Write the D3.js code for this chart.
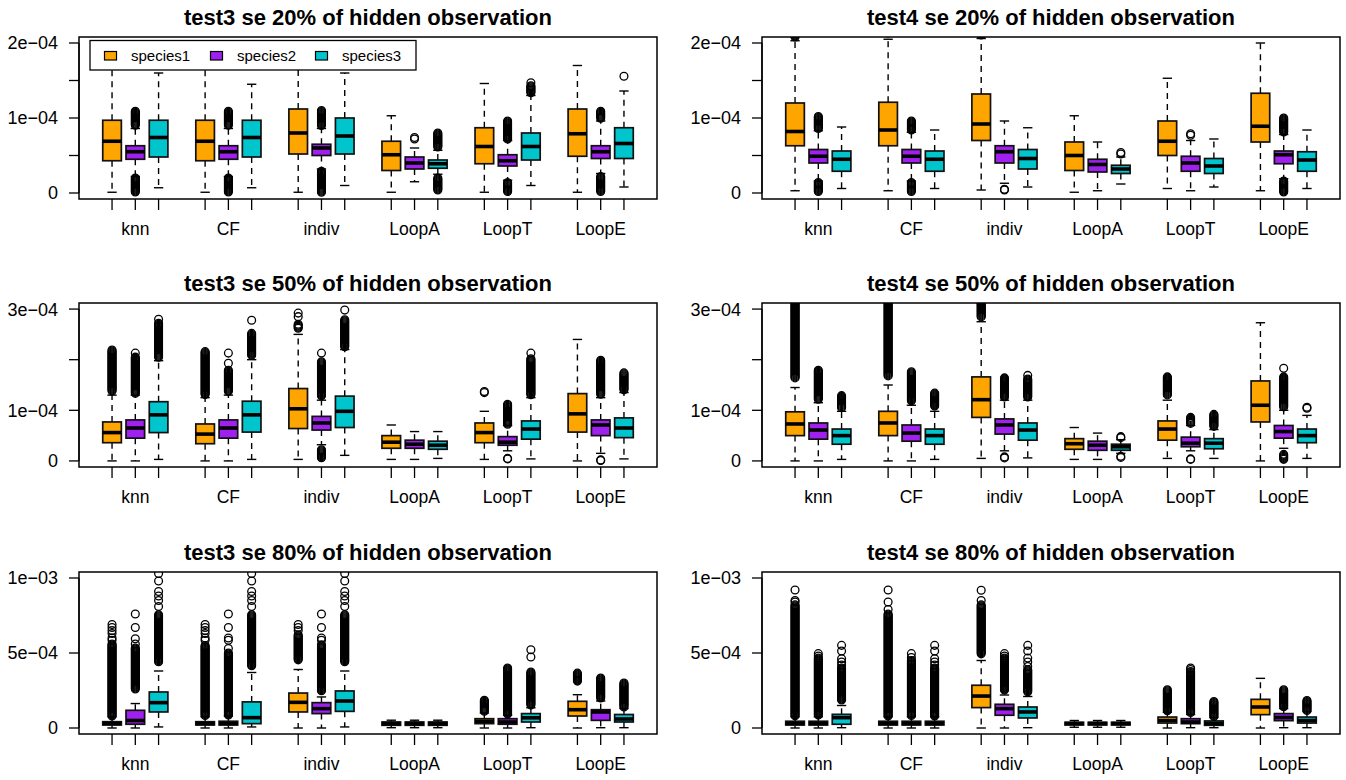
<!DOCTYPE html>
<html>
<head>
<meta charset="utf-8">
<script src="https://cdn.jsdelivr.net/npm/d3@7"></script>
<style>
  body { margin: 0; background: #fff; }
  text { font-family: "Liberation Sans", Arial, Helvetica, sans-serif; fill: #000; }
</style>
</head>
<body>
<script>
// ---- data (all values in units of 1e-4) ----
const methods = ["knn", "CF", "indiv", "LoopA", "LoopT", "LoopE"];
const species = ["species1", "species2", "species3"];
const speciesColors = ["#FFA500", "#A020F0", "#00C5CD"];

const titles = [
    "test3 se 20% of hidden observation", "test4 se 20% of hidden observation",
    "test3 se 50% of hidden observation", "test4 se 50% of hidden observation",
    "test3 se 80% of hidden observation", "test4 se 80% of hidden observation"
];

// y range per row, tick values and which get a label
const rowMax = [2, 3, 10];
const rowTicks = [[0, 0.5, 1, 1.5, 2], [0, 1, 2, 3], [0, 5, 10]];
const rowTickLabels = [
    ["0", "", "1e\u221204", "", "2e\u221204"],
    ["0", "1e\u221204", "", "3e\u221204"],
    ["0", "5e\u221204", "1e\u221203"]
];

// box stats: [lower whisker, q1, median, q3, upper whisker], order knn s1..s3, CF s1..s3, ...
const statsT3p20 = [
    [0.01, 0.43, 0.69, 0.97, 1.70], [0.22, 0.45, 0.55, 0.63, 0.86], [0.07, 0.48, 0.74, 0.97, 1.60],
    [0.01, 0.43, 0.69, 0.97, 1.70], [0.22, 0.45, 0.55, 0.63, 0.86], [0.07, 0.48, 0.74, 0.97, 1.45],
    [0.01, 0.52, 0.80, 1.12, 1.75], [0.32, 0.50, 0.60, 0.65, 0.86], [0.10, 0.52, 0.76, 1.00, 1.60],
    [0.01, 0.30, 0.51, 0.69, 1.03], [0.15, 0.32, 0.40, 0.48, 0.60], [0.25, 0.33, 0.39, 0.44, 0.57],
    [0.01, 0.39, 0.62, 0.87, 1.46], [0.17, 0.36, 0.43, 0.51, 0.70], [0.10, 0.44, 0.62, 0.80, 1.30],
    [0.01, 0.49, 0.79, 1.12, 1.70], [0.26, 0.46, 0.55, 0.63, 0.96], [0.08, 0.46, 0.66, 0.87, 1.36]
];
const statsT4p20 = [
    [0.03, 0.63, 0.82, 1.20, 2.03], [0.16, 0.40, 0.49, 0.58, 0.83], [0.06, 0.29, 0.45, 0.56, 0.88],
    [0.03, 0.63, 0.84, 1.21, 2.05], [0.16, 0.40, 0.49, 0.58, 0.81], [0.06, 0.29, 0.45, 0.56, 0.84],
    [0.04, 0.70, 0.92, 1.32, 2.06], [0.13, 0.40, 0.55, 0.63, 0.96], [0.08, 0.32, 0.46, 0.58, 0.87],
    [0.01, 0.30, 0.50, 0.68, 1.03], [0.03, 0.28, 0.38, 0.45, 0.68], [0.12, 0.26, 0.32, 0.37, 0.48],
    [0.06, 0.50, 0.69, 0.96, 1.53], [0.03, 0.29, 0.40, 0.49, 0.70], [0.08, 0.26, 0.36, 0.46, 0.72],
    [0.03, 0.68, 0.89, 1.33, 2.00], [0.19, 0.39, 0.51, 0.56, 0.78], [0.06, 0.29, 0.44, 0.55, 0.84]
];
const statsT3p50 = [
    [0.00, 0.36, 0.56, 0.77, 1.30], [0.00, 0.45, 0.65, 0.81, 1.30], [0.03, 0.56, 0.91, 1.17, 1.98],
    [0.00, 0.34, 0.53, 0.73, 1.25], [0.00, 0.45, 0.65, 0.81, 1.30], [0.03, 0.57, 0.91, 1.18, 2.00],
    [0.03, 0.64, 1.03, 1.43, 2.50], [0.32, 0.61, 0.75, 0.88, 1.20], [0.11, 0.66, 0.98, 1.28, 2.20],
    [0.03, 0.25, 0.37, 0.50, 0.71], [0.03, 0.25, 0.33, 0.41, 0.58], [0.05, 0.23, 0.31, 0.39, 0.58],
    [0.03, 0.36, 0.56, 0.75, 0.98], [0.20, 0.31, 0.37, 0.48, 0.70], [0.04, 0.43, 0.63, 0.79, 1.25],
    [0.00, 0.57, 0.93, 1.33, 2.40], [0.15, 0.50, 0.71, 0.81, 1.25], [0.04, 0.46, 0.65, 0.85, 1.35]
];
const statsT4p50 = [
    [0.00, 0.50, 0.73, 0.97, 1.45], [0.00, 0.43, 0.61, 0.75, 1.15], [0.03, 0.33, 0.50, 0.63, 0.98],
    [0.00, 0.50, 0.75, 0.98, 1.50], [0.00, 0.39, 0.55, 0.71, 1.10], [0.03, 0.33, 0.50, 0.63, 0.98],
    [0.05, 0.86, 1.21, 1.66, 2.75], [0.20, 0.53, 0.71, 0.83, 1.20], [0.06, 0.41, 0.61, 0.75, 1.20],
    [0.03, 0.23, 0.34, 0.44, 0.66], [0.03, 0.21, 0.31, 0.39, 0.55], [0.15, 0.21, 0.28, 0.33, 0.42],
    [0.05, 0.41, 0.63, 0.79, 1.20], [0.20, 0.28, 0.35, 0.47, 0.70], [0.05, 0.24, 0.35, 0.44, 0.62],
    [0.00, 0.77, 1.10, 1.58, 2.73], [0.25, 0.45, 0.58, 0.70, 1.00], [0.05, 0.36, 0.50, 0.63, 0.90]
];
const statsT3p80 = [
    [0.00, 0.20, 0.30, 0.42, 0.75], [0.00, 0.25, 0.50, 1.18, 1.63], [0.07, 1.07, 1.69, 2.40, 3.80],
    [0.00, 0.20, 0.30, 0.42, 0.75], [0.00, 0.20, 0.30, 0.45, 0.80], [0.07, 0.29, 0.69, 1.74, 3.70],
    [0.00, 1.07, 1.71, 2.33, 3.90], [0.00, 0.96, 1.29, 1.69, 2.07], [0.07, 1.11, 1.80, 2.47, 3.80],
    [0.02, 0.18, 0.30, 0.40, 0.52], [0.02, 0.18, 0.30, 0.40, 0.52], [0.02, 0.18, 0.30, 0.40, 0.52],
    [0.00, 0.29, 0.45, 0.62, 1.00], [0.00, 0.25, 0.40, 0.62, 0.85], [0.02, 0.40, 0.68, 0.96, 1.35],
    [0.00, 0.80, 1.22, 1.78, 2.22], [0.02, 0.51, 1.07, 1.22, 1.80], [0.02, 0.40, 0.60, 0.90, 1.30]
];
const statsT4p80 = [
    [0.00, 0.20, 0.30, 0.45, 0.75], [0.00, 0.20, 0.30, 0.45, 0.75], [0.02, 0.25, 0.69, 0.91, 1.50],
    [0.00, 0.20, 0.30, 0.45, 0.75], [0.00, 0.20, 0.30, 0.45, 0.75], [0.00, 0.20, 0.30, 0.45, 0.75],
    [0.00, 1.36, 2.13, 2.85, 4.50], [0.00, 0.85, 1.29, 1.58, 2.20], [0.02, 0.67, 1.07, 1.40, 2.10],
    [0.05, 0.20, 0.30, 0.38, 0.50], [0.05, 0.20, 0.30, 0.38, 0.50], [0.05, 0.20, 0.30, 0.38, 0.50],
    [0.00, 0.33, 0.50, 0.73, 1.05], [0.02, 0.29, 0.40, 0.62, 0.90], [0.02, 0.18, 0.30, 0.47, 0.70],
    [0.00, 0.89, 1.40, 1.91, 3.31], [0.02, 0.49, 0.70, 0.96, 1.30], [0.02, 0.33, 0.50, 0.73, 1.10]
];

// dense outlier runs: [box index, from, to]
const runsT3p20 = [[1, 0.9, 1.09], [1, 0.01, 0.2], [4, 0.9, 1.09], [4, 0.01, 0.2], [7, 0.9, 1.1], [7, 0.01, 0.29],
    [11, 0.61, 0.8], [11, 0.03, 0.2], [13, 0.72, 0.96], [13, 0.01, 0.14], [14, 1.33, 1.43],
    [16, 0.99, 1.09], [16, 0.01, 0.22]];
const runsT4p20 = [[0, 2.07, 2.4], [1, 0.86, 1.02], [1, 0.01, 0.14], [3, 2.12, 2.4], [4, 0.83, 0.96], [4, 0.01, 0.14],
    [6, 2.1, 2.4], [16, 0.81, 1.0], [16, 0.01, 0.16]];
const runsT3p50 = [[0, 1.37, 2.19], [1, 1.33, 2.05], [2, 2.04, 2.72], [3, 1.3, 2.16], [4, 1.37, 1.79], [5, 2.08, 2.52],
    [6, 2.62, 2.7], [7, 1.27, 1.96], [7, 0.05, 0.22], [8, 2.24, 2.79], [13, 0.72, 1.12], [14, 1.3, 2.02],
    [16, 1.3, 1.99], [17, 1.4, 1.74]];
const runsT4p50 = [[0, 1.64, 3.3], [1, 1.2, 1.79], [2, 1.05, 1.29], [3, 1.67, 3.3], [4, 1.17, 1.76], [5, 1.07, 1.34],
    [6, 2.84, 3.3], [7, 1.25, 1.64], [8, 1.25, 1.62], [12, 1.3, 1.66], [13, 0.74, 0.86], [14, 0.67, 0.92],
    [16, 1.05, 1.66], [16, 0.03, 0.13]];
const runsT3p80 = [[0, 0.8, 5.6], [1, 2.59, 5.33], [2, 4.37, 7.55], [3, 0.8, 5.5], [4, 0.85, 5.0], [5, 4.15, 7.55],
    [6, 4.48, 6.21], [7, 2.48, 5.55], [8, 4.37, 7.55], [12, 1.1, 1.85], [13, 0.9, 4.0], [14, 1.48, 3.73],
    [15, 3.08, 3.66], [16, 1.97, 3.33], [17, 1.37, 3.0]];
const runsT4p80 = [[0, 0.8, 8.21], [1, 0.8, 4.66], [2, 1.81, 4.0], [3, 0.8, 7.6], [4, 0.8, 4.5], [5, 0.8, 4.0],
    [6, 4.93, 8.21], [7, 2.48, 4.66], [8, 2.37, 3.88], [12, 1.15, 2.55], [13, 1.0, 3.77], [14, 0.75, 1.77],
    [16, 1.37, 2.55], [17, 1.15, 1.83]];

// single outliers: [box index, value]
const pointsT3p20 = [[10, 0.72], [10, 0.74], [14, 1.47], [17, 1.556]];
const pointsT4p20 = [[7, 0.04], [7, 0.05], [11, 0.52], [11, 0.54], [13, 0.77], [13, 0.79]];
const pointsT3p50 = [[1, 2.13], [2, 2.8], [4, 1.93], [4, 2.13], [5, 2.78], [6, 2.85], [6, 2.92], [7, 2.13],
    [8, 2.98], [12, 1.35], [12, 1.37], [13, 0.04], [13, 0.05], [14, 2.13], [16, 0.01], [16, 0.02]];
const pointsT4p50 = [[7, 0.06], [7, 0.08], [8, 1.69], [11, 0.46], [11, 0.48], [11, 0.07], [11, 0.09],
    [13, 0.03], [13, 0.04], [16, 1.83], [17, 1.04], [17, 1.06]];
const pointsT3p80 = [
    [0, 5.85], [0, 6.0], [0, 6.3], [0, 6.5], [0, 6.7], [0, 6.9],
    [1, 5.6], [1, 5.95], [1, 6.7], [1, 7.6],
    [2, 8.1], [2, 8.5], [2, 8.8], [2, 9.1], [2, 9.8], [2, 10.3],
    [3, 5.85], [3, 6.0], [3, 6.3], [3, 6.5], [3, 6.7], [3, 6.9],
    [4, 5.3], [4, 5.85], [4, 6.0], [4, 6.7], [4, 7.6],
    [5, 8.1], [5, 8.5], [5, 8.8], [5, 9.1], [5, 9.8], [5, 10.3],
    [6, 6.5], [6, 6.7], [6, 6.9],
    [7, 5.85], [7, 6.0], [7, 6.7], [7, 7.6],
    [8, 8.1], [8, 8.5], [8, 8.8], [8, 9.1], [8, 9.8], [8, 10.3],
    [14, 4.73], [14, 5.22]];
const pointsT4p80 = [
    [0, 8.4], [0, 8.5], [0, 9.2], [1, 4.8], [1, 4.96],
    [2, 4.2], [2, 4.4], [2, 4.62], [2, 5.13], [2, 5.51],
    [3, 7.9], [3, 8.4], [3, 9.2], [4, 4.7], [4, 4.96],
    [5, 4.2], [5, 4.4], [5, 4.62], [5, 5.13], [5, 5.51],
    [6, 8.5], [6, 9.18], [7, 4.8], [7, 4.96],
    [8, 4.1], [8, 4.4], [8, 4.66], [8, 5.13], [8, 5.51],
    [13, 3.9], [13, 4.0]];

const panelStats = [statsT3p20, statsT4p20, statsT3p50, statsT4p50, statsT3p80, statsT4p80];
const panelRuns = [runsT3p20, runsT4p20, runsT3p50, runsT4p50, runsT3p80, runsT4p80];
const panelPoints = [pointsT3p20, pointsT4p20, pointsT3p50, pointsT4p50, pointsT3p80, pointsT4p80];

// ---- layout ----
const width = 1346, height = 780;
const colX = [[79, 657], [762, 1340]];
const rowY = [[37, 199], [303, 467], [572, 734]];

const svg = d3.select("body").append("svg")
    .attr("width", width)
    .attr("height", height);

const boxPos = (i) => 4 * Math.floor(i / 3) + (i % 3) + 1;

function drawPanel(p) {
    const row = Math.floor(p / 2), col = p % 2;
    const [x0, x1] = colX[col];
    const [y0, y1] = rowY[row];
    const ymax = rowMax[row];

    const x = d3.scaleLinear().domain([0.5 - 0.92, 23.5 + 0.92]).range([x0, x1]);
    const y = d3.scaleLinear().domain([-0.04 * ymax, 1.04 * ymax]).range([y1, y0]);
    const unit = x(1) - x(0);
    const bw = 0.8 * unit;

    const g = svg.append("g");
    const clipId = "clip" + p;
    g.append("clipPath").attr("id", clipId)
        .append("rect").attr("x", x0).attr("y", y0).attr("width", x1 - x0).attr("height", y1 - y0);

    const plot = g.append("g").attr("clip-path", `url(#${clipId})`);
    const stats = panelStats[p];

    stats.forEach((s, i) => {
        const [lo, q1, med, q3, hi] = s;
        const cx = x(boxPos(i));
        const b = plot.append("g");

        // whiskers
        b.append("line").attr("x1", cx).attr("x2", cx).attr("y1", y(q3)).attr("y2", y(hi))
            .attr("stroke", "#000").attr("stroke-width", 1.4).attr("stroke-dasharray", "6,5");
        b.append("line").attr("x1", cx).attr("x2", cx).attr("y1", y(q1)).attr("y2", y(lo))
            .attr("stroke", "#000").attr("stroke-width", 1.4).attr("stroke-dasharray", "6,5");
        [lo, hi].forEach(v => {
            b.append("line").attr("x1", cx - bw / 4).attr("x2", cx + bw / 4)
                .attr("y1", y(v)).attr("y2", y(v))
                .attr("stroke", "#000").attr("stroke-width", 1.4);
        });

        // box + median
        b.append("rect")
            .attr("x", cx - bw / 2).attr("width", bw)
            .attr("y", y(q3)).attr("height", Math.max(0.5, y(q1) - y(q3)))
            .attr("fill", speciesColors[i % 3])
            .attr("stroke", "#111").attr("stroke-width", 1.7);
        b.append("line").attr("x1", cx - bw / 2).attr("x2", cx + bw / 2)
            .attr("y1", y(med)).attr("y2", y(med))
            .attr("stroke", "#000").attr("stroke-width", 3.6);

        // outliers: dense runs drawn as stacked open circles, one per pixel
        const circleAt = (cy) => b.append("circle").attr("cx", cx).attr("cy", cy).attr("r", 3.9)
            .attr("fill", "none").attr("stroke", "#000").attr("stroke-width", 1.3);
        panelRuns[p].filter(r => r[0] === i).forEach(r => {
            const ya = y(r[2]), yb = y(r[1]);
            for (let cy = ya; cy <= yb; cy += 1) circleAt(cy);
        });
        panelPoints[p].filter(r => r[0] === i).forEach(r => circleAt(y(r[1])));
    });

    // frame
    g.append("rect").attr("x", x0).attr("y", y0).attr("width", x1 - x0).attr("height", y1 - y0)
        .attr("fill", "none").attr("stroke", "#000").attr("stroke-width", 1.5);

    // y axis
    const ticks = rowTicks[row];
    const tickLabels = rowTickLabels[row];
    g.append("line").attr("x1", x0).attr("x2", x0).attr("y1", y(ticks[0])).attr("y2", y(ticks[ticks.length - 1]))
        .attr("stroke", "#000").attr("stroke-width", 1.3);
    ticks.forEach((t, k) => {
        g.append("line").attr("x1", x0 - 10).attr("x2", x0).attr("y1", y(t)).attr("y2", y(t))
            .attr("stroke", "#000").attr("stroke-width", 1.3);
        if (tickLabels[k]) {
            g.append("text").attr("x", x0 - 21).attr("y", y(t)).attr("dy", "0.36em")
                .attr("text-anchor", "end").style("font-size", "18px").text(tickLabels[k]);
        }
    });

    // x axis
    stats.forEach((s, i) => {
        const cx = x(boxPos(i));
        g.append("line").attr("x1", cx).attr("x2", cx).attr("y1", y1).attr("y2", y1 + 11)
            .attr("stroke", "#000").attr("stroke-width", 1.3);
    });
    methods.forEach((m, k) => {
        g.append("text").attr("x", x(4 * k + 2)).attr("y", y1 + 36)
            .attr("text-anchor", "middle").style("font-size", "17.5px").text(m);
    });

    // title
    g.append("text").attr("x", (x0 + x1) / 2).attr("y", y0 - 12)
        .attr("text-anchor", "middle").style("font-size", "22px").style("font-weight", "bold")
        .text(titles[p]);

    if (p === 0) drawLegend(g);
}

function drawLegend(g) {
    const lg = g.append("g");
    lg.append("rect").attr("x", 90).attr("y", 40.5).attr("width", 326).attr("height", 29.5)
        .attr("fill", "#fff").attr("stroke", "#000").attr("stroke-width", 1.3);
    const itemX = [104.5, 210.5, 315.5];
    species.forEach((sp, k) => {
        lg.append("rect").attr("x", itemX[k]).attr("y", 51.5).attr("width", 12).attr("height", 8.5)
            .attr("fill", speciesColors[k]).attr("stroke", "#000").attr("stroke-width", 1.2);
        lg.append("text").attr("x", itemX[k] + 26.5).attr("y", 61)
            .style("font-size", "15px").text(sp);
    });
}

for (let p = 0; p < 6; p++) drawPanel(p);
</script>
</body>
</html>
